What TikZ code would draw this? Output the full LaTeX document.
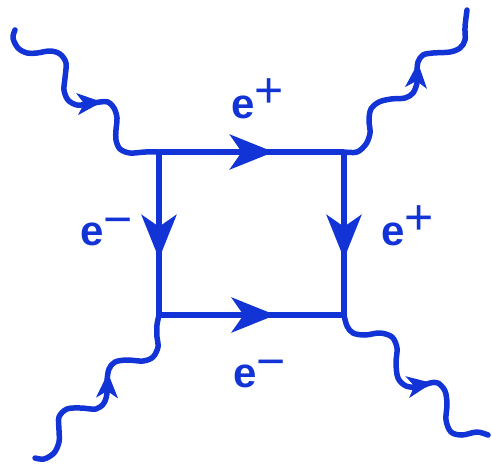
\documentclass[tikz,border=0pt]{standalone}
\usepackage{fontspec}
\setmainfont{Liberation Sans}
\usetikzlibrary{arrows.meta,decorations.markings}
\definecolor{fblue}{RGB}{18,52,214}
\tikzset{
  prop/.style={draw=fblue,line width=5.5pt,line cap=butt},
  wave/.style={draw=fblue,line width=5.5pt,line cap=round,line join=round},
  wavehead/.style={draw=fblue,fill=fblue,line width=1pt,-{Stealth[length=25pt,width=22pt,inset=7pt]}},
  fermarrow/.style={postaction={decorate},decoration={markings,
     mark=at position #1 with {\arrow[fblue]{Stealth[length=44pt,width=35pt,inset=12pt]}}}},
  lab/.style={text=fblue,inner sep=0pt,anchor=base west,font=\fontsize{42}{42}\selectfont\bfseries}
}
\newcommand{\supplus}{\raisebox{10.5pt}{\mdseries\fontsize{50}{50}\selectfont +}}
\newcommand{\supminus}{\raisebox{8.5pt}{\mdseries\fontsize{50}{50}\selectfont −}}
\begin{document}
\begin{tikzpicture}[x=1pt,y=-1pt]
\useasboundingbox (0,0) rectangle (492,467);
% box corners
\coordinate (tl) at (159,152);
\coordinate (tr) at (344,152);
\coordinate (bl) at (159,315);
\coordinate (br) at (344,315);
% free ends of the photon lines
\coordinate (ptl) at (15,30);
\coordinate (ptr) at (467,10);
\coordinate (pbl) at (35,458);
\coordinate (pbr) at (488,435);
% fermion lines
\draw[prop,fermarrow=0.62] (tl) -- (tr);
\draw[prop,fermarrow=0.655] (tl) -- (bl);
\draw[prop,fermarrow=0.655] (tr) -- (br);
\draw[prop,fermarrow=0.63] (bl) -- (br);
% photons
\draw[wave] plot[smooth,tension=0.55] coordinates {(ptl) (13,38) (18,48) (27,53) (37,53) (50,51) (60,54) (66,63) (65,78) (64,90) (68,100) (77,105) (88,104) (100,102) (108,102) (114,108) (117,118) (116,130) (116,140) (120,149) (130,153) (145,152) (tl)};
\draw[wavehead] (78,104) -- (102,102);
\draw[wave] plot[smooth,tension=0.55] coordinates {(tr) (357,152) (366,144) (370,133) (369,120) (371,109) (379,102) (391,99) (405,98) (413,93) (417,83) (417,73) (418,62) (423,55) (433,53) (450,52) (460,48) (465,40) (465,27) (ptr)};
\draw[wavehead] (416,88) -- (418,63);
\draw[wave] plot[smooth,tension=0.55] coordinates {(bl) (157,325) (157,337) (158,347) (153,357) (143,361) (127,360) (115,362) (109,369) (107,381) (107,393) (104,403) (96,409) (81,408) (67,409) (59,417) (59,430) (59,442) (54,453) (44,459) (pbl)};
\draw[wavehead] (107,398) -- (108,373);
\draw[wave] plot[smooth,tension=0.55] coordinates {(br) (347,326) (353,333) (365,335) (380,333) (392,337) (397,348) (396,363) (398,378) (406,386) (418,387) (430,383) (438,383) (445,391) (447,404) (446,420) (451,432) (462,435) (477,432) (pbr)};
\draw[wavehead] (408,387) -- (432,383);
% labels
\node[lab] (etop) at (231,118) {e\supplus};
\node[lab] (eleft) at (80,245) {e\supminus};
\node[lab] (eright) at (381,245) {e\supplus};
\node[lab] (ebot) at (233,387) {e\supminus};
\end{tikzpicture}
\end{document}
